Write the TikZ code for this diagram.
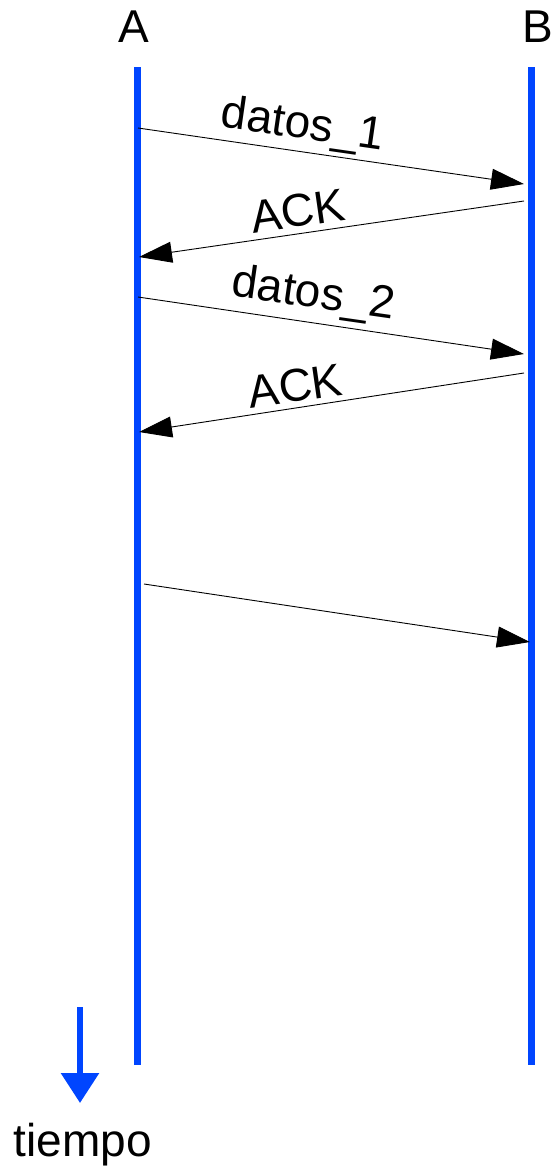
\documentclass[tikz,border=0pt]{standalone}
\usepackage{fontspec}
\setmainfont{Liberation Sans}
\usetikzlibrary{arrows.meta}
\definecolor{lifeblue}{RGB}{0,69,255}

\begin{document}
\begin{tikzpicture}[x=1pt,y=-1pt,>={Triangle[length=33pt,width=21pt]},
  life/.style={line width=6.5pt,lifeblue},
  msg/.style={line width=0.9pt,->},
  lbl/.style={inner sep=0pt,anchor=base,font=\fontsize{46}{55}\selectfont}]
  \useasboundingbox (0,0) rectangle (552,1167);

  \node[lbl,anchor=center] (A) at (134,26.5) {A};
  \node[lbl,anchor=center] (B) at (538,26.5) {B};

  \coordinate (Atop) at (137.5,67);   \coordinate (Abot) at (137.5,1065);
  \coordinate (Btop) at (531.5,67);   \coordinate (Bbot) at (531.5,1065);
  \draw[life] (Atop)--(Abot);
  \draw[life] (Btop)--(Bbot);

  \coordinate (a1) at (138,128);  \coordinate (b1) at (524,184);
  \coordinate (b2) at (524,201);  \coordinate (a2) at (139,257);
  \coordinate (a3) at (138,297);  \coordinate (b3) at (524,354);
  \coordinate (b4) at (524,373);  \coordinate (a4) at (139,432);
  \coordinate (a5) at (144,584);  \coordinate (b5) at (530,642);

  \draw[msg] (a1)--(b1);
  \node[lbl,rotate=-8.2] (d1) at (301,138.5) {datos\_1};
  \draw[msg] (b2)--(a2);
  \node[lbl,rotate=8.2] (k1) at (300,226.5) {ACK};
  \draw[msg] (a3)--(b3);
  \node[lbl,rotate=-8.2] (d2) at (311.5,307.5) {datos\_2};
  \draw[msg] (b4)--(a4);
  \node[lbl,rotate=8.2] (k2) at (297.5,401.5) {ACK};
  \draw[msg] (a5)--(b5);

  \coordinate (t0) at (80,1007);  \coordinate (t1) at (80,1103);
  \draw[life,line width=6pt,-{Triangle[length=30pt,width=37pt]}] (t0)--(t1);
  \node[lbl] (tiempo) at (83,1156) {tiempo};
\end{tikzpicture}
\end{document}
